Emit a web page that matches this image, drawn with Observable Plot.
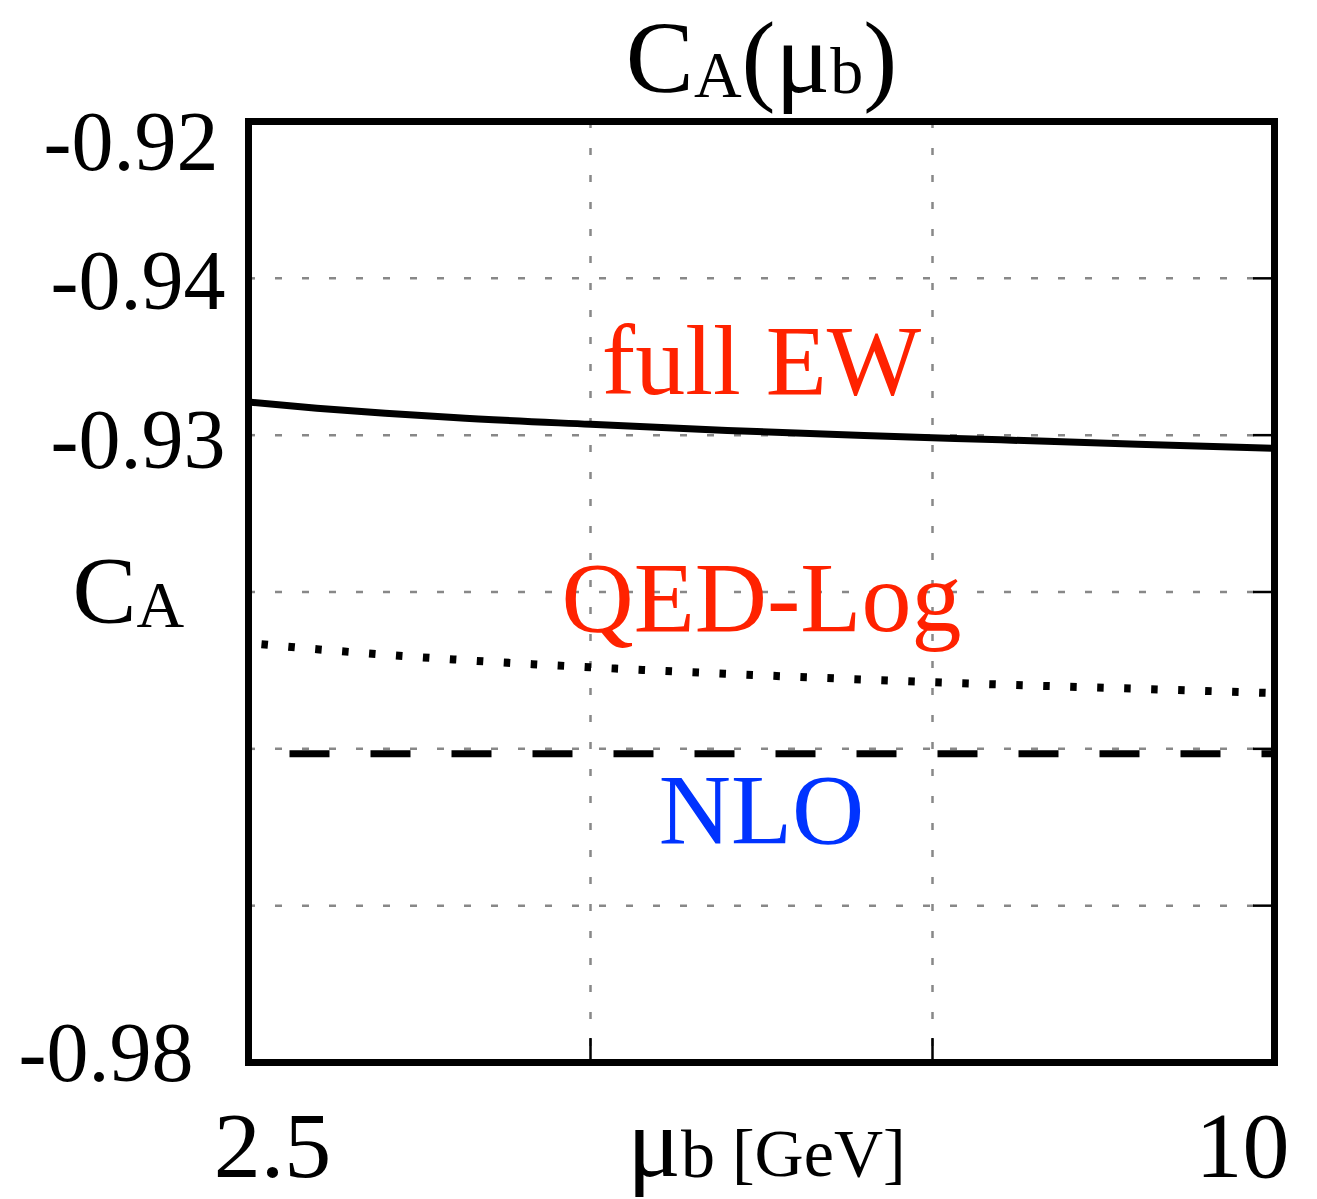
<!DOCTYPE html>
<html>
<head>
<meta charset="utf-8">
<script src="https://cdn.jsdelivr.net/npm/d3@7"></script>
<script src="https://cdn.jsdelivr.net/npm/@observablehq/plot@0.6"></script>
<style>
  html, body { margin: 0; padding: 0; background: #fff; }
</style>
</head>
<body>
<div id="chart"></div>
<script>
// ---- data ----
const mu = [2.5, 3, 3.5, 4, 5, 6, 7, 8, 9, 10];
const fullEW = [-0.93789, -0.93828, -0.93860, -0.93888, -0.93931, -0.93970, -0.94002, -0.94030, -0.94058, -0.94084];
const qedLog = [-0.95325, -0.95365, -0.95400, -0.95430, -0.95480, -0.95522, -0.95558, -0.95590, -0.95617, -0.95645];
const nloMu = [2.5, 10];
const nlo = [-0.96032, -0.96032];

const xGrid = [5, 7.5];
const yGrid = [-0.93, -0.94, -0.95, -0.96, -0.97];
const xTicks = [2.5, 10];
const xTickLabels = ["2.5", "10"];
const yTicks = [-0.92, -0.93, -0.94, -0.98];
const yTickLabels = ["-0.92", "-0.94", "-0.93", "-0.98"];

const annotations = [
  {text: "full EW", x: 6.25, y: -0.93536, color: "#ff2200"},
  {text: "QED-Log", x: 6.25, y: -0.95047, color: "#ff2200"},
  {text: "NLO", x: 6.25, y: -0.96399, color: "#0033ff"}
];

const titlePlain = "CA(μb)";
const yLabelPlain = "CA";
const xLabelPlain = "μb [GeV]";

// ---- build tables ----
const solidData = mu.map((m, i) => ({x: m, y: fullEW[i]}));
const dotData = mu.map((m, i) => ({x: m, y: qedLog[i]}));
const dashData = nloMu.map((m, i) => ({x: m, y: nlo[i]}));

// layout offsets (styling only)
const yLabelDx = [-30, -23, -23, -55];
const yLabelDy = [22, 4, 6, -8];
const xLabelDx = [24, -32];

const gridStyle = {stroke: "#888", strokeWidth: 2.5, strokeDasharray: "7,20"};

const marks = [
  Plot.ruleX(xGrid, {x: d => d, ...gridStyle}),
  Plot.ruleY(yGrid, {y: d => d, ...gridStyle}),
  Plot.line(solidData, {x: "x", y: "y", stroke: "black", strokeWidth: 7, curve: "monotone-x"}),
  Plot.line(dotData, {x: "x", y: "y", stroke: "black", strokeWidth: 8, strokeDasharray: "6.5,20.5", strokeDashoffset: 14, strokeLinecap: "butt", curve: "monotone-x"}),
  Plot.line(dashData, {x: "x", y: "y", stroke: "black", strokeWidth: 7, strokeDasharray: "40,41", strokeDashoffset: 40, strokeLinecap: "butt"}),
  Plot.text(annotations, {x: "x", y: "y", text: "text", fill: "color", fontSize: 100, lineAnchor: "middle"}),
  Plot.axisY({anchor: "right", ticks: yGrid, tickSize: -22, tickFormat: () => "", strokeWidth: 2.5, label: null}),
  Plot.axisX({anchor: "bottom", ticks: xGrid, tickSize: -24, tickFormat: () => "", strokeWidth: 2.5, label: null}),
  Plot.frame({stroke: "black", strokeWidth: 7}),
  ...yTicks.map((t, i) => Plot.axisY({anchor: "left", ticks: [t], tickSize: 0, tickPadding: 0,
      tickFormat: () => yTickLabels[i], dx: yLabelDx[i], dy: yLabelDy[i], fontSize: 84, label: null})),
  ...xTicks.map((t, i) => Plot.axisX({anchor: "bottom", ticks: [t], tickSize: 0, tickPadding: 48,
      tickFormat: () => xTickLabels[i], dx: xLabelDx[i], fontSize: 94, label: null})),
  Plot.text([titlePlain], {text: d => d, frameAnchor: "top", dy: -62, fontSize: 102, lineAnchor: "middle"}),
  Plot.text([yLabelPlain], {text: d => d, frameAnchor: "left", textAnchor: "start", dx: -176, fontSize: 96, lineAnchor: "middle"}),
  Plot.text([xLabelPlain], {text: d => d, frameAnchor: "bottom", dx: 5, dy: 92, fontSize: 68, lineAnchor: "middle"})
];

const svg = Plot.plot({
  width: 1317,
  height: 1199,
  marginLeft: 248,
  marginRight: 43,
  marginTop: 121,
  marginBottom: 137,
  style: {fontFamily: "Liberation Serif", background: "white", color: "black", overflow: "visible"},
  x: {domain: [2.5, 10]},
  y: {domain: [-0.98, -0.92]},
  marks
});

// rich text (subscripts / mixed sizes)
const richParts = {
  [titlePlain]: [{t: "C", s: 102}, {t: "A", s: 66, sh: 5}, {t: "(μ", s: 102}, {t: "b", s: 66, sh: 1}, {t: ")", s: 102}],
  [yLabelPlain]: [{t: "C", s: 96}, {t: "A", s: 66, sh: 4}],
  [xLabelPlain]: [{t: "μ", s: 100}, {t: "b", s: 68, sh: 1}, {t: " [GeV]", s: 68}]
};
svg.querySelectorAll("text").forEach(node => {
  const parts = richParts[node.textContent];
  if (!parts) return;
  node.textContent = "";
  let cur = 0;
  for (const p of parts) {
    const ts = document.createElementNS("http://www.w3.org/2000/svg", "tspan");
    ts.setAttribute("font-size", p.s);
    const sh = p.sh || 0;
    if (sh !== cur) ts.setAttribute("dy", sh - cur);
    cur = sh;
    ts.textContent = p.t;
    node.appendChild(ts);
  }
});

document.getElementById("chart").appendChild(svg);
</script>
</body>
</html>
